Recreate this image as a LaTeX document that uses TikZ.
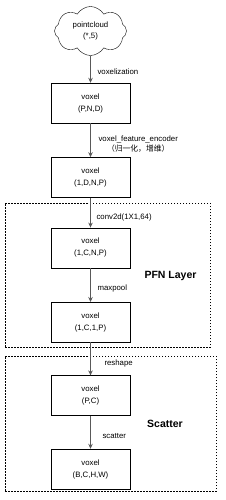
\documentclass[tikz,border=0pt]{standalone}
\usepackage{fontspec}
\setmainfont{Liberation Sans}
\newfontfamily\cjkfont{Noto Sans CJK SC}
\usetikzlibrary{shapes.symbols,positioning,arrows.meta}

\begin{document}
\begin{tikzpicture}[
    x=1pt, y=1pt,
    node distance=34pt,
    voxbox/.style={rectangle, draw=black, fill=white, minimum width=79pt, minimum height=40pt, align=center, inner sep=0pt, font=\fontsize{7.8}{12}\selectfont},
    cloudnode/.style={cloud, draw=black, fill=white, cloud puffs=8, cloud puff arc=120, aspect=1.45, minimum width=72pt, minimum height=49pt, inner sep=0pt, align=center, font=\fontsize{7.8}{11.5}\selectfont},
    group/.style={rectangle, draw=black, dash pattern=on 1.5pt off 1.5pt, line width=0.6pt},
    arrow/.style={-{Stealth[length=5pt,width=4.5pt]}, line width=1.1pt, draw=black!65, fill=black!65},
    elabel/.style={font=\fontsize{7.8}{10}\selectfont, anchor=west, inner sep=0pt, align=center, text=black},
    grouptitle/.style={font=\bfseries\fontsize{10.5}{12}\selectfont}
]
\useasboundingbox (0,0) rectangle (225,-500);

% Groups
\node[group, minimum width=205pt, minimum height=144pt] (pfn) at (107.5,-275) {};
\node[group, minimum width=211pt, minimum height=135pt] (scat) at (110.5,-423.5) {};
\node[grouptitle] (pfntitle) at (170.5,-276) {PFN Layer};
\node[grouptitle] (scattitle) at (165,-424) {Scatter};

% Main chain
\node[cloudnode] (pc) at (90.5,-31) {pointcloud\\(*,5)};
\node[voxbox] (v1) at (90.5,-103) {voxel\\(P,N,D)};
\node[voxbox, below=34pt of v1] (v2) {voxel\\(1,D,N,P)};
\node[voxbox, below=30pt of v2] (v3) {voxel\\(1,C,N,P)};
\node[voxbox, below=34pt of v3] (v4) {voxel\\(1,C,1,P)};
\node[voxbox, below=33pt of v4] (v5) {voxel\\(P,C)};
\node[voxbox, below=33pt of v5] (v6) {voxel\\(B,C,H,W)};

% Arrows
\draw[arrow] (pc) -- node[elabel, xshift=6.5pt, yshift=-2pt] {voxelization} (v1);
\draw[arrow] (v1) -- node[elabel, xshift=7.5pt, yshift=-4pt] {voxel\_feature\_encoder\\{\cjkfont （归一化，增维）}} (v2);
\draw[arrow] (v2) -- node[elabel, xshift=5.5pt, yshift=-5pt] {conv2d(1X1,64)} (v3);
\draw[arrow] (v3) -- node[elabel, xshift=6.5pt, yshift=-3pt] {maxpool} (v4);
\draw[arrow] (v4) -- node[elabel, xshift=13.5pt, yshift=-5pt] {reshape} (v5);
\draw[arrow] (v5) -- node[elabel, xshift=11.5pt, yshift=-3.5pt] {scatter} (v6);

\end{tikzpicture}
\end{document}
